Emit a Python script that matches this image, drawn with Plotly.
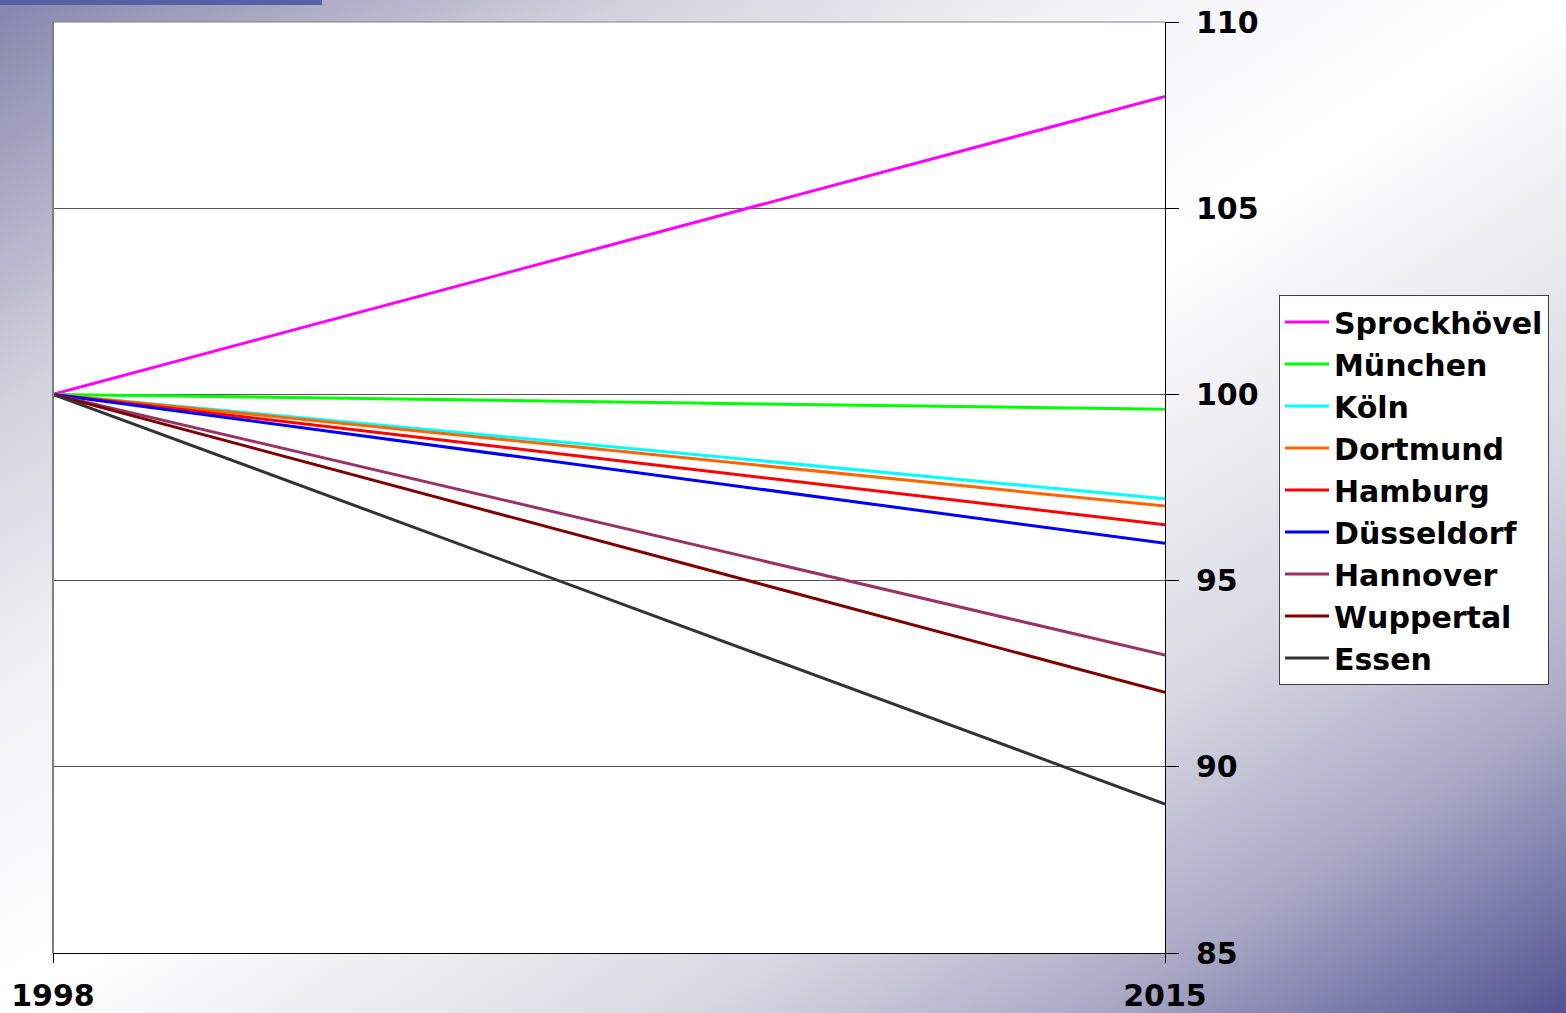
import base64
import plotly.graph_objects as go

# Index values (1998 = 100) for each city
years = [1998, 2015]
cities = ["Sprockhövel", "München", "Köln", "Dortmund", "Hamburg",
          "Düsseldorf", "Hannover", "Wuppertal", "Essen"]
sprockhoevel = [100, 108.0]
muenchen = [100, 99.6]
koeln = [100, 97.2]
dortmund = [100, 97.0]
hamburg = [100, 96.5]
duesseldorf = [100, 96.0]
hannover = [100, 93.0]
wuppertal = [100, 92.0]
essen = [100, 89.0]

series = [sprockhoevel, muenchen, koeln, dortmund, hamburg,
          duesseldorf, hannover, wuppertal, essen]
colors = ["#FF00FF", "#00FF00", "#00FFFF", "#FF6600", "#FF0000",
          "#0000FF", "#993366", "#800000", "#333333"]

W, H = 1566, 1013
L, R, T, B = 53, 401, 22, 60
pw, ph = W - L - R, H - T - B

font_main = dict(family="DejaVu Sans", size=30, color="#000000", weight="bold")

fig = go.Figure()
for name, vals, col in zip(cities, series, colors):
    fig.add_trace(go.Scatter(x=years, y=vals, name=name, mode="lines",
                             line=dict(color=col, width=3)))

# Diagonal slide-style background gradient with a white plotting panel
svg = f'''<svg xmlns="http://www.w3.org/2000/svg" width="{W}" height="{H}" viewBox="0 0 {W} {H}" preserveAspectRatio="none">
<defs><linearGradient id="g" x1="0" y1="0" x2="1" y2="1">
<stop offset="0" stop-color="#8585ad"/>
<stop offset="0.2" stop-color="#d2d2de"/>
<stop offset="0.35" stop-color="#f3f3f7"/>
<stop offset="0.5" stop-color="#ffffff"/>
<stop offset="0.6" stop-color="#eeeef2"/>
<stop offset="0.72" stop-color="#d8d8e3"/>
<stop offset="0.85" stop-color="#a9a9c6"/>
<stop offset="1" stop-color="#525292"/>
</linearGradient></defs>
<rect x="0" y="0" width="{W}" height="{H}" fill="url(#g)"/>
<rect x="0" y="0" width="322" height="5" fill="#5560a5"/>
<rect x="{L}" y="{T}" width="{pw}" height="{ph}" fill="#ffffff"/>
</svg>'''
src = "data:image/svg+xml;base64," + base64.b64encode(svg.encode("utf-8")).decode()

fig.add_layout_image(dict(
    source=src, xref="paper", yref="paper",
    x=-L / pw, y=1 + T / ph, sizex=W / pw, sizey=H / ph,
    xanchor="left", yanchor="top", sizing="stretch", layer="below"))

# Grey left and top border of the plot area
fig.add_shape(type="line", xref="paper", yref="paper", x0=0, x1=0, y0=0, y1=1,
              line=dict(color="#808080", width=2))
fig.add_shape(type="line", xref="paper", yref="paper", x0=0, x1=1, y0=1, y1=1,
              line=dict(color="#808080", width=1))

fig.update_layout(
    width=W, height=H,
    margin=dict(l=L, r=R, t=T, b=B, autoexpand=False),
    paper_bgcolor="#ffffff", plot_bgcolor="#ffffff",
    font=font_main,
    showlegend=True,
    legend=dict(x=(1279 - L) / pw, y=(H - B - 295) / ph, xanchor="left", yanchor="top",
                bgcolor="#ffffff", bordercolor="#404040", borderwidth=1,
                font=font_main, itemwidth=44, tracegroupgap=0),
    xaxis=dict(range=[1998, 2015], tickvals=years, ticktext=[str(y) for y in years],
               showgrid=False, zeroline=False, showline=True, linecolor="#000000",
               linewidth=1, ticks="outside", ticklen=9, tickcolor="#000000",
               tickfont=font_main, ticklabelstandoff=7),
    yaxis=dict(range=[85, 110], dtick=5, side="right", showgrid=True,
               gridcolor="#555555", gridwidth=1, zeroline=False, showline=True,
               linecolor="#000000", linewidth=1, ticks="outside", ticklen=13,
               tickcolor="#000000", tickfont=font_main, ticklabelstandoff=11),
)

fig.write_html("out.html")
